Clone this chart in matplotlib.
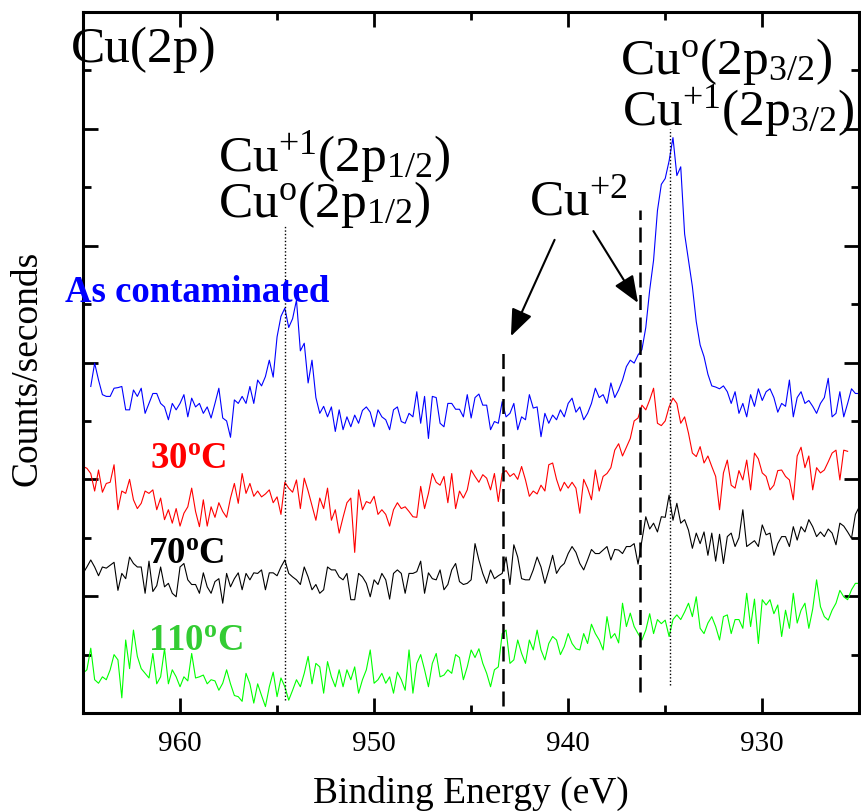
import numpy as np
import matplotlib
matplotlib.use("Agg")
import matplotlib.pyplot as plt
from matplotlib.ticker import MultipleLocator

plt.rcParams['font.family'] = ['Liberation Serif', 'DejaVu Serif']
plt.rcParams['mathtext.default'] = 'regular'

nan = np.nan

# binding energy grid (eV), 0.2 eV steps
energy = np.linspace(965, 925, 201)

# intensities (arbitrary units, spectra offset)
as_contaminated = [
    nan, nan, 5.59, 5.99, 5.70, 5.45, 5.42, 5.42, 5.56, 5.57,
    5.59, 5.19, 5.19, 5.53, 5.42, 5.56, 5.13, 5.30, 5.47, 5.47,
    5.30, 5.24, 5.02, 5.30, 5.19, 5.30, 5.45, 5.07, 5.39, 5.24,
    5.30, 5.13, 5.24, 5.05, 5.30, 5.56, 5.05, 5.00, 4.72, 5.36,
    5.30, 5.42, 5.30, 5.59, 5.30, 5.70, 5.60, 5.76, 6.04, 5.75,
    6.44, 6.79, 6.93, 6.60, 6.75, 7.07, 6.20, 6.33, 5.65, 6.04,
    5.40, 5.13, 5.25, 5.07, 5.24, 4.82, 5.19, 4.85, 5.07, 4.90,
    5.10, 4.96, 5.18, 5.24, 5.15, 4.90, 5.19, 5.07, 5.02, 4.85,
    5.19, 5.24, 4.99, 4.96, 5.13, 5.07, 5.50, 4.96, 5.42, 4.70,
    5.42, 5.40, 4.96, 4.90, 5.30, 5.30, 5.20, 5.20, 5.07, 5.45,
    5.05, 5.40, 5.46, 5.27, 5.27, 4.85, 4.99, 4.96, 5.33, 5.07,
    5.13, 5.30, 4.85, 5.07, 5.02, 5.45, 5.22, 5.24, 4.73, 5.13,
    4.96, 5.10, 5.02, 5.19, 5.07, 5.30, 5.39, 5.15, 5.24, 5.02,
    5.13, 5.30, 5.56, 5.40, 5.45, 5.30, 5.65, 5.40, 5.53, 5.70,
    5.93, 6.04, 5.99, 6.13, 6.22, 6.60, 7.24, 7.75, 8.60, 9.05,
    9.15, 9.45, 9.85, 9.20, 9.35, 8.20, 7.75, 7.30, 6.70, 6.30,
    6.10, 5.80, 5.60, 5.58, 5.55, 5.60, 5.50, 5.30, 5.50, 5.13,
    5.30, 5.07, 5.45, 5.25, 5.55, 5.35, 5.50, 5.55, 5.40, 5.15,
    5.30, 5.25, 5.70, 5.07, 5.40, 5.50, 5.30, 5.35, 5.25, 5.13,
    5.30, 5.40, 5.73, 5.07, 5.13, 5.50, 5.07, 5.30, 5.55, 5.47,
    5.47]

t30 = [
    4.22, 4.19, 4.10, 3.80, 4.16, 3.78, 3.93, 3.95, 4.25, 3.48,
    3.80, 3.76, 4.00, 3.65, 3.50, 3.59, 3.80, 3.76, 3.82, 3.48,
    3.68, 3.31, 3.48, 3.25, 3.50, 3.20, 3.42, 3.53, 3.85, 3.45,
    3.19, 3.65, 3.20, 3.53, 3.35, 3.60, 3.45, 3.35, 3.68, 3.93,
    3.59, 4.10, 3.76, 3.93, 3.71, 3.80, 3.70, 3.75, 3.82, 3.60,
    3.70, 3.40, 3.95, 3.85, 3.78, 3.99, 3.50, 4.02, 3.80, 3.55,
    3.30, 3.68, 3.50, 3.85, 3.30, 3.48, 3.08, 3.35, 3.60, 3.68,
    2.75, 3.82, 3.48, 3.62, 3.59, 3.71, 3.40, 3.48, 3.40, 3.20,
    3.48, 3.60, 3.50, 3.53, 3.45, 3.36, 3.35, 3.88, 3.50, 3.76,
    4.10, 3.95, 3.90, 4.05, 3.60, 4.10, 3.50, 3.80, 3.68, 3.82,
    4.16, 4.05, 3.95, 4.08, 4.02, 3.82, 4.10, 3.62, 4.10, 4.15,
    4.05, 4.10, 4.00, 4.22, 3.99, 3.71, 3.80, 3.75, 3.90, 3.80,
    4.25, 4.28, 4.00, 3.80, 3.95, 3.85, 3.95, 3.85, 3.42, 4.00,
    3.85, 3.65, 4.16, 3.80, 4.05, 4.10, 4.20, 4.50, 4.61, 4.40,
    4.55, 4.70, 5.00, 5.05, 5.27, 5.19, 5.36, 5.56, 4.96, 4.92,
    5.00, 5.24, 5.39, 5.30, 4.96, 5.07, 4.79, 4.45, 4.39, 4.56,
    4.28, 4.40, 4.22, 4.05, 3.48, 4.11, 4.33, 3.90, 3.85, 4.15,
    3.99, 4.33, 3.82, 4.45, 4.35, 4.11, 4.05, 3.82, 3.90, 4.15,
    4.16, 4.05, 3.99, 3.65, 4.40, 4.55, 4.20, 4.40, 3.82, 4.20,
    4.11, 4.16, 4.30, 4.45, 4.50, 3.99, 4.50, 4.48, nan, nan,
    nan]

t70 = [
    2.39, 2.50, 2.62, 2.50, 2.35, 2.50, 2.48, 2.53, 2.58, 2.10,
    2.39, 2.30, 2.67, 2.56, 2.50, 2.50, 2.05, 2.60, 2.08, 2.18,
    2.50, 2.16, 2.22, 2.05, 1.99, 2.50, 2.56, 2.28, 2.20, 2.20,
    2.05, 2.40, 2.16, 2.05, 2.25, 2.30, 1.88, 2.39, 2.16, 2.30,
    2.40, 2.11, 2.39, 2.28, 2.40, 2.39, 2.45, 2.11, 2.40, 2.40,
    2.35, 2.50, 2.62, 2.39, 2.33, 2.28, 2.20, 2.50, 2.33, 2.11,
    2.20, 2.05, 2.11, 2.50, 2.45, 2.45, 2.33, 2.28, 2.39, 1.94,
    1.94, 2.39, 2.33, 2.22, 1.99, 2.28, 2.20, 2.39, 2.28, 1.95,
    2.39, 2.45, 2.39, 2.05, 2.39, 2.39, 2.42, 2.60, 2.05, 2.40,
    2.30, 2.28, 2.45, 2.11, 2.20, 2.45, 2.56, 2.25, 2.20, 2.22,
    2.28, 2.90, 2.62, 2.39, 2.22, 2.45, 2.30, 2.35, 2.39, 2.67,
    2.20, 2.88, 2.67, 2.30, 2.28, 2.28, 2.45, 2.67, 2.50, 2.22,
    2.45, 2.70, 2.39, 2.50, 2.56, 2.73, 2.85, 2.75, 2.56, 2.45,
    2.62, 2.80, 2.73, 2.73, 2.79, 2.85, 2.62, 2.80, 2.79, 2.73,
    2.85, 2.85, 2.90, 2.55, 2.95, 3.36, 3.15, 3.25, 3.10, 3.36,
    3.35, 3.73, 3.30, 3.59, 3.25, 3.31, 3.13, 2.82, 3.08, 2.90,
    3.10, 2.70, 3.08, 2.60, 3.06, 2.56, 3.02, 3.08, 2.85, 3.00,
    3.48, 2.85, 2.90, 2.95, 2.85, 3.22, 3.05, 3.08, 2.70, 2.90,
    3.02, 3.02, 2.85, 3.19, 2.96, 3.19, 3.10, 3.31, 3.19, 3.02,
    3.10, 3.02, 3.15, 3.08, 2.88, 3.25, 3.20, 3.10, 2.99, 3.40,
    3.53]

t110 = [
    0.68, 0.74, 1.11, 0.57, 0.51, 0.62, 0.57, 0.74, 1.00, 0.91,
    0.26, 1.25, 0.76, 1.42, 0.97, 0.76, 0.68, 0.60, 1.02, 0.50,
    0.62, 1.10, 0.50, 0.74, 0.62, 0.45, 0.62, 0.55, 1.02, 0.60,
    0.62, 0.65, 0.50, 0.57, 0.55, 0.39, 0.51, 0.74, 0.50, 0.30,
    0.28, 0.20, 0.68, 0.50, 0.17, 0.50, 0.30, 0.11, 0.45, 0.70,
    0.28, 0.60, 0.45, 0.22, 0.39, 0.57, 0.45, 0.68, 0.97, 0.50,
    0.85, 0.79, 0.34, 0.88, 0.62, 0.45, 0.74, 0.45, 0.74, 0.57,
    0.79, 0.34, 0.57, 0.74, 1.08, 0.51, 0.57, 0.68, 0.51, 0.62,
    0.34, 0.70, 0.57, 0.39, 1.08, 0.34, 0.85, 1.00, 0.74, 0.45,
    0.85, 1.02, 0.62, 0.65, 0.74, 0.68, 1.00, 0.95, 0.57, 0.79,
    1.08, 0.95, 1.10, 0.85, 0.68, 0.45, 0.74, 0.79, 1.36, 1.42,
    0.85, 0.91, 1.25, 1.02, 0.85, 1.25, 1.08, 1.42, 1.08, 0.91,
    1.19, 1.31, 1.25, 1.00, 1.14, 1.36, 1.19, 1.10, 1.08, 1.36,
    1.19, 1.52, 1.36, 1.25, 1.08, 1.65, 1.28, 1.36, 1.20, 1.88,
    1.48, 1.71, 1.48, 1.36, 1.25, 1.42, 1.70, 1.36, 1.60, 1.53,
    1.59, 1.31, 1.60, 1.68, 1.60, 1.73, 1.88, 1.65, 1.99, 1.45,
    1.36, 1.54, 1.65, 1.48, 1.25, 1.65, 1.68, 1.36, 1.60, 1.60,
    1.45, 2.05, 1.48, 1.95, 1.19, 1.94, 1.85, 1.94, 1.70, 1.85,
    1.31, 1.76, 1.45, 2.05, 1.54, 1.76, 1.88, 1.45, 1.78, 2.28,
    1.82, 1.65, 1.59, 1.76, 1.88, 2.10, 1.99, 1.94, 2.11, 2.22,
    2.22]

# marker lines: (energy, y from, y to)
peak_lines = [(954.6, 0.22, 8.36), (934.77, 0.48, 10.0)]
cu2_lines = [(943.35, 0.12, 6.18), (936.3, 0.36, 8.61)]

fig = plt.figure(figsize=(8.61, 8.11), dpi=100)
ax = fig.add_axes([0.0964, 0.1208, 0.9016, 0.8644])

ax.plot(energy, as_contaminated, color='#0000ff', lw=0.8)
ax.plot(energy, t30, color='#ff0000', lw=0.8)
ax.plot(energy, t70, color='black', lw=0.8)
ax.plot(energy, t110, color='#00ff00', lw=0.8)

for e, y0, y1 in peak_lines:
    ax.plot([e, e], [y0, y1], color='black', lw=1.0, ls=(0, (1, 1.5)))
for e, y0, y1 in cu2_lines:
    ax.plot([e, e], [y0, y1], color='black', lw=1.8, ls=(0, (6, 3)))

# arrows pointing to Cu+2 lines
arrow = dict(arrowstyle='-|>,head_length=0.55,head_width=0.22', color='black',
             lw=1.5, mutation_scale=30, shrinkA=0, shrinkB=0)
ax.annotate('', xy=(942.95, 6.45), xytext=(940.7, 8.1), arrowprops=arrow)
ax.annotate('', xy=(936.4, 7.02), xytext=(938.7, 8.25), arrowprops=arrow)

big = 37
ax.text(965.62, 11.15, 'Cu(2p)', fontsize=big, ha='left', va='baseline')
ax.text(958.06, 9.28, 'Cu$^{+1}$(2p$_{1/2}$)', fontsize=big, ha='left', va='baseline')
ax.text(958.06, 8.49, 'Cu$^{o}$(2p$_{1/2}$)', fontsize=big, ha='left', va='baseline')
ax.text(937.33, 10.94, 'Cu$^{o}$(2p$_{3/2}$)', fontsize=big, ha='left', va='baseline')
ax.text(937.25, 10.07, 'Cu$^{+1}$(2p$_{3/2}$)', fontsize=big, ha='left', va='baseline')
ax.text(942.02, 8.53, 'Cu$^{+2}$', fontsize=big, ha='left', va='baseline')

lab = 26.5
ax.text(965.93, 7.04, 'As contaminated', color='#0000ff', fontsize=lab,
        fontweight='bold', ha='left', va='baseline')
ax.text(961.56, 4.18, '30$^{o}$C', color='#ff0000', fontsize=lab,
        fontweight='bold', ha='left', va='baseline')
ax.text(961.66, 2.55, '70$^{o}$C', color='black', fontsize=lab,
        fontweight='bold', ha='left', va='baseline')
ax.text(961.66, 1.06, '110$^{o}$C', color='#33cc33', fontsize=lab,
        fontweight='bold', ha='left', va='baseline')

ax.set_xlim(965, 925)
ax.set_ylim(0, 12)
ax.xaxis.set_major_locator(MultipleLocator(10))
ax.xaxis.set_minor_locator(MultipleLocator(5))
ax.yaxis.set_major_locator(MultipleLocator(2))
ax.yaxis.set_minor_locator(MultipleLocator(1))
ax.tick_params(which='both', direction='in', top=True, right=True, width=2)
ax.tick_params(which='major', length=11, labelsize=21, pad=13)
ax.tick_params(which='minor', length=6)
ax.tick_params(axis='y', labelleft=False)
for sp in ax.spines.values():
    sp.set_linewidth(2.2)

fig.text(0.547, 0.022, 'Binding Energy (eV)', fontsize=27, ha='center', va='center')
fig.text(0.0314, 0.546, 'Counts/seconds', fontsize=27, rotation=90,
         ha='center', va='center')

fig.savefig('out.png', dpi=100)
